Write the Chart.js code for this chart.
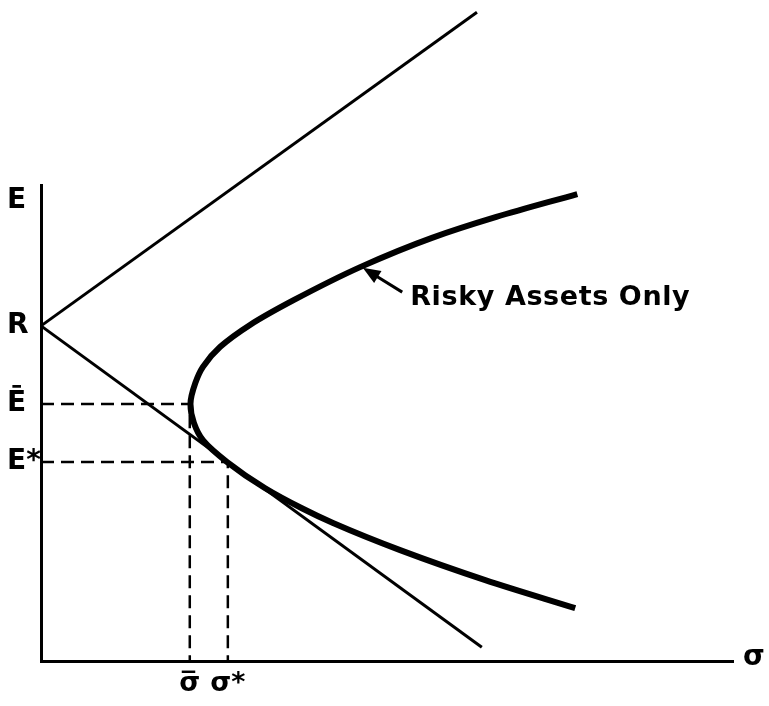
<!DOCTYPE html>
<html>
<head>
<meta charset="utf-8">
<script src="https://cdn.jsdelivr.net/npm/chart.js@4.4.1/dist/chart.umd.min.js"></script>
<style>
  html, body { margin: 0; padding: 0; background: #fff; }
  #wrap { width: 769px; height: 706px; }
</style>
</head>
<body>
<div id="wrap"><canvas id="frontier" width="769" height="706"></canvas></div>
<script>
// values: sigma on x, E on y, both axes run 0..100
const sigmaTickValues = [21.5, 27.0];
const sigmaTickLabels = ['σ\u0305', 'σ*'];
const eTickValues = [96.8, 70.4, 54.0, 41.8];
const eTickLabels = ['E', 'R', 'Ē', 'E*'];

// the "risky assets only" frontier, from the top end round the nose to the bottom end
const frontierSigma = [77.5, 65.8, 56.5, 46.2, 36.5, 30.2, 25.9, 23.4, 22.3, 21.6, 22.1, 23.4, 26.9, 32.4, 37.7, 42.2, 51.9, 64.2, 77.2];
const frontierE = [98.1, 93.3, 88.9, 82.8, 75.8, 70.6, 66.0, 61.8, 58.4, 54.0, 50.0, 46.4, 41.8, 36.3, 32.1, 29.0, 23.3, 17.0, 11.1];

// the two straight lines out of R
const upperLineSigma = [0, 63.0];
const upperLineE = [70.4, 136.3];
const lowerLineSigma = [0, 63.7];
const lowerLineE = [70.4, 2.9];

const annotationLabel = 'Risky Assets Only';

function toPoints(xs, ys) {
    return xs.map((v, i) => ({ x: v, y: ys[i] }));
}

// dashed guide: from the E axis across to the point, then down to the sigma axis
function guide(sigma, e) {
    return [{ x: 0, y: e }, { x: sigma, y: e }, { x: sigma, y: 0 }];
}

const black = '#000';
const labelFont = '"DejaVu Sans"';

// text that is not a tick: sigma at the end of the axis, and the arrow note
const extraText = {
    id: 'extraText',
    afterDatasetsDraw(chart) {
        const { ctx, scales: { x, y } } = chart;
        ctx.save();
        ctx.fillStyle = black;
        ctx.strokeStyle = black;

        // sigma at the right end of the x axis
        ctx.font = 'bold 28px ' + labelFont;
        ctx.textAlign = 'left';
        ctx.textBaseline = 'middle';
        ctx.fillText('σ', x.right + 10, y.bottom - 3);

        // arrow pointing at the frontier
        const tipX = x.getPixelForValue(46.5), tipY = y.getPixelForValue(82.6);
        const tailX = x.getPixelForValue(52.2), tailY = y.getPixelForValue(77.5);
        const ang = Math.atan2(tipY - tailY, tipX - tailX);
        ctx.lineWidth = 3;
        ctx.beginPath();
        ctx.moveTo(tailX, tailY);
        ctx.lineTo(tipX - Math.cos(ang) * 10, tipY - Math.sin(ang) * 10);
        ctx.stroke();
        ctx.beginPath();
        ctx.moveTo(tipX, tipY);
        ctx.lineTo(tipX - Math.cos(ang - 0.38) * 19, tipY - Math.sin(ang - 0.38) * 19);
        ctx.lineTo(tipX - Math.cos(ang + 0.38) * 19, tipY - Math.sin(ang + 0.38) * 19);
        ctx.closePath();
        ctx.fill();

        // label beside the arrow
        ctx.font = 'bold 27px ' + labelFont;
        ctx.letterSpacing = '0.6px';
        ctx.textBaseline = 'alphabetic';
        ctx.fillText(annotationLabel, tailX + 8, tailY + 13);
        ctx.restore();
    }
};

const ctx = document.getElementById('frontier').getContext('2d');

new Chart(ctx, {
    type: 'line',
    data: {
        datasets: [
            {
                data: toPoints(upperLineSigma, upperLineE),
                borderColor: black, borderWidth: 3,
                pointRadius: 0, clip: false
            },
            {
                data: toPoints(lowerLineSigma, lowerLineE),
                borderColor: black, borderWidth: 3,
                pointRadius: 0, clip: false
            },
            {
                data: toPoints(frontierSigma, frontierE),
                borderColor: black, borderWidth: 6,
                cubicInterpolationMode: 'monotone',
                pointRadius: 0, clip: false
            },
            {
                data: guide(sigmaTickValues[0], eTickValues[2]),
                borderColor: black, borderWidth: 2.5,
                borderDash: [13, 7], pointRadius: 0, clip: false
            },
            {
                data: guide(sigmaTickValues[1], eTickValues[3]),
                borderColor: black, borderWidth: 2.5,
                borderDash: [13, 7], pointRadius: 0, clip: false
            }
        ]
    },
    options: {
        indexAxis: 'y',
        responsive: false,
        animation: false,
        layout: { padding: { top: 185, right: 36, left: 7, bottom: 0 } },
        plugins: {
            legend: { display: false },
            tooltip: { enabled: false }
        },
        scales: {
            x: {
                type: 'linear',
                min: 0,
                max: 100,
                grid: { display: false, drawTicks: false },
                border: { display: true, color: black, width: 3 },
                afterFit(scale) { scale.height = 45; },
                afterBuildTicks(scale) {
                    scale.ticks = sigmaTickValues.map(v => ({ value: v }));
                },
                ticks: {
                    autoSkip: false,
                    maxRotation: 0,
                    padding: 7,
                    color: black,
                    font: { family: 'DejaVu Sans', size: 27, weight: 'bold' },
                    callback: (value, index) => sigmaTickLabels[index]
                }
            },
            y: {
                type: 'linear',
                min: 0,
                max: 100,
                grid: { display: false, drawTicks: false },
                border: { display: true, color: black, width: 3 },
                afterFit(scale) { scale.width = 34; },
                afterBuildTicks(scale) {
                    scale.ticks = eTickValues.map(v => ({ value: v }));
                },
                ticks: {
                    autoSkip: false,
                    crossAlign: 'far',
                    color: black,
                    font: { family: 'DejaVu Sans', size: 28, weight: 'bold' },
                    callback: (value, index) => eTickLabels[index]
                }
            }
        }
    },
    plugins: [extraText]
});
</script>
</body>
</html>
